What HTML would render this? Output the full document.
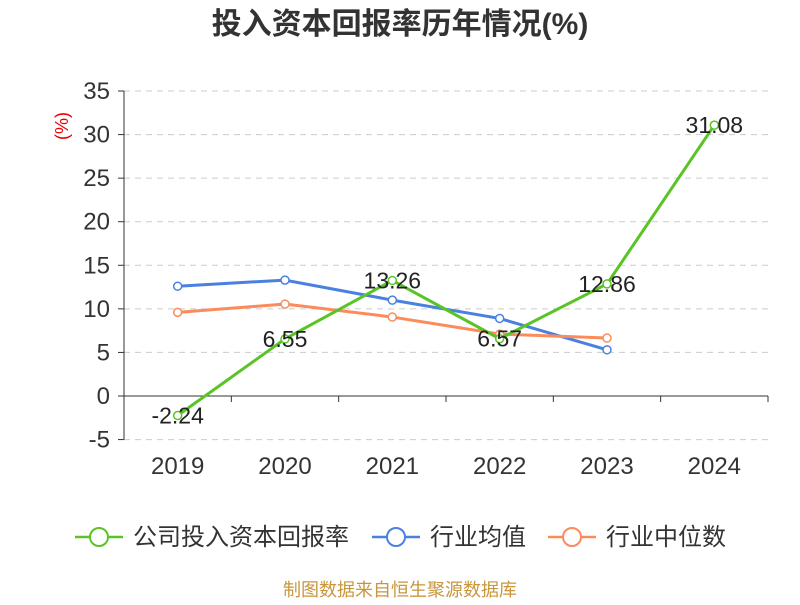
<!DOCTYPE html>
<html><head><meta charset="utf-8"><style>
body{margin:0;background:#fff;}
svg text{font-family:"Liberation Sans","Noto Sans CJK SC",sans-serif;}
</style></head><body>
<svg id="chart" width="800" height="600" xmlns="http://www.w3.org/2000/svg">
<text x="400" y="34" text-anchor="middle" font-size="30" font-weight="bold" fill="#333">投入资本回报率历年情况(%)</text>
<text x="68" y="126" font-size="18" fill="#e00" transform="rotate(-90 68 126)" text-anchor="middle">(%)</text>
<g id="grid"></g><g id="axes"></g><g id="series"></g>
<g>
 <g><line x1="75" y1="537" x2="123" y2="537" stroke="#5ac427" stroke-width="2.5"/><circle cx="99" cy="537" r="9" fill="#fff" stroke="#5ac427" stroke-width="2"/><text x="133" y="545" font-size="24" fill="#333">公司投入资本回报率</text></g>
 <g><line x1="372" y1="537" x2="420" y2="537" stroke="#4a80e0" stroke-width="2.5"/><circle cx="396" cy="537" r="9" fill="#fff" stroke="#4a80e0" stroke-width="2"/><text x="430" y="545" font-size="24" fill="#333">行业均值</text></g>
 <g><line x1="548" y1="537" x2="596" y2="537" stroke="#fb8b5a" stroke-width="2.5"/><circle cx="572" cy="537" r="9" fill="#fff" stroke="#fb8b5a" stroke-width="2"/><text x="606" y="545" font-size="24" fill="#333">行业中位数</text></g>
</g>
<text x="400" y="596" text-anchor="middle" font-size="18" fill="#c8963c">制图数据来自恒生聚源数据库</text>
</svg>
<script>
const categories=["2019","2020","2021","2022","2023","2024"];
const companyValues=[-2.24,6.55,13.26,6.57,12.86,31.08];
const industryAvg=[12.6,13.3,11.0,8.9,5.3,null];
const industryMedian=[9.6,10.55,9.06,7.1,6.65,null];
const yTicks=[-5,0,5,10,15,20,25,30,35];
const NS="http://www.w3.org/2000/svg";
const x0=124,x1=768,bw=(x1-x0)/categories.length;
const xs=i=>x0+bw*(i+0.5);
const ys=v=>396-v*(396-91)/35;
function mk(tag,attrs,parent){const e=document.createElementNS(NS,tag);for(const k in attrs)e.setAttribute(k,attrs[k]);parent.appendChild(e);return e;}
const grid=document.getElementById('grid'),axes=document.getElementById('axes'),ser=document.getElementById('series');
yTicks.forEach(t=>{const y=ys(t);
 if(t!==0){const g=mk('line',{x1:x0,x2:x1,y1:y,y2:y,stroke:'#ccc','stroke-dasharray':'6,5'},grid);
 
 }
 const tk=mk('line',{x1:x0-6,x2:x0,y1:y,y2:y,stroke:'#333'},axes);
 
 
 const l=mk('text',{x:x0-14,y:y+8,'text-anchor':'end','font-size':24,fill:'#333'},axes);l.textContent=t;
 
 
});
const ya=mk('line',{x1:x0,x2:x0,y1:ys(35),y2:ys(-5),stroke:'#333'},axes);


const xa=mk('line',{x1:x0,x2:x1,y1:ys(0),y2:ys(0),stroke:'#333'},axes);


for(let i=0;i<=categories.length;i++){const tk=mk('line',{x1:x0+bw*i,x2:x0+bw*i,y1:ys(0),y2:ys(0)+6,stroke:'#333'},axes);
 
 }
categories.forEach((c,i)=>{const l=mk('text',{x:xs(i),y:474,'text-anchor':'middle','font-size':24,fill:'#333'},axes);l.textContent=c;
 
 });
function drawSeries(vals,color,name,labels){
 const pts=vals.map((v,i)=>v==null?null:[xs(i),ys(v)]).filter(p=>p);
 const pl=mk('polyline',{points:pts.map(p=>p.join(',')).join(' '),fill:'none',stroke:color,'stroke-width':3},ser);
 
 
 vals.forEach((v,i)=>{if(v==null)return;
  const c=mk('circle',{cx:xs(i),cy:ys(v),r:4,fill:'#fff',stroke:color,'stroke-width':1.5},ser);
  
  });
 if(labels)vals.forEach((v,i)=>{const t=mk('text',{x:xs(i),y:ys(v)+8,'text-anchor':'middle','font-size':23,fill:'#222'},ser);t.textContent=v.toFixed(2);
  
  });
}
drawSeries(industryAvg,'#4a80e0','industry-avg',false);
drawSeries(industryMedian,'#fb8b5a','industry-median',false);
drawSeries(companyValues,'#5ac427','company-roic',true);
</script>
</body></html>
